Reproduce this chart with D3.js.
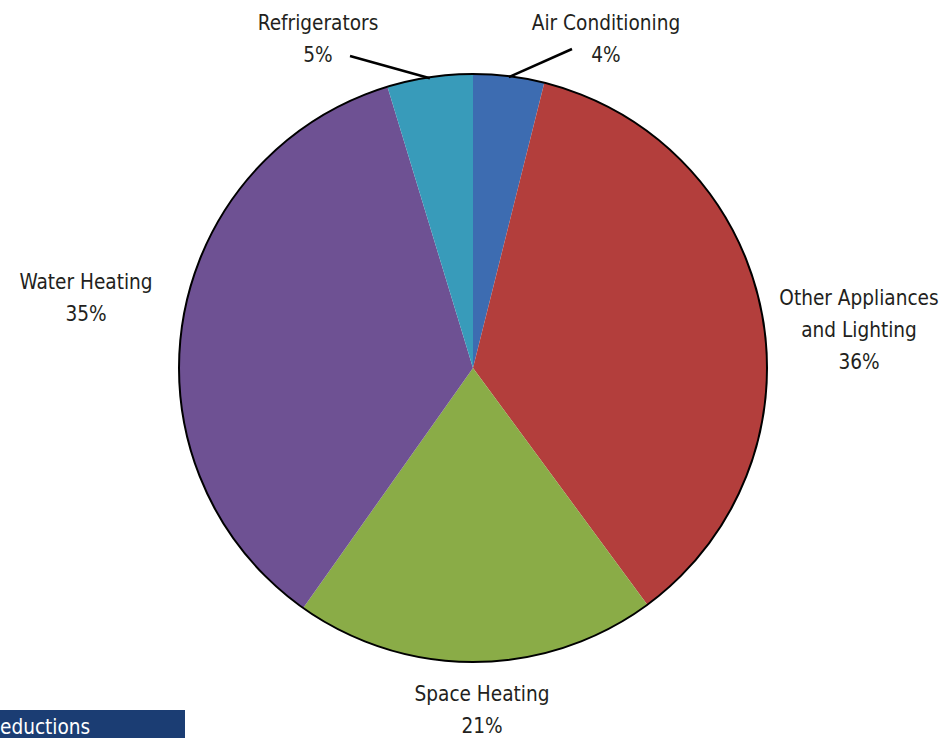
<!DOCTYPE html>
<html><head><meta charset="utf-8">
<script src="https://cdn.jsdelivr.net/npm/d3@7"></script>
<style>
html,body{margin:0;padding:0;background:#fff;}
svg{display:block;}
text{font-family:"Liberation Sans Narrow","DejaVu Sans Condensed","Arial Narrow",sans-serif;fill:#231f20;}
</style></head>
<body>
<svg id="chart" width="943" height="738"></svg>
<script>
const categories = ["Air Conditioning", "Other Appliances and Lighting", "Space Heating", "Water Heating", "Refrigerators"];
const values = [3.9, 36.0, 19.9, 35.5, 4.7];
const percentLabels = ["4%", "36%", "21%", "35%", "5%"];
const colors = ["#3d6cb1", "#b33e3c", "#8aac47", "#6e5193", "#389bba"];
const footerText = "eductions";

const svg = d3.select("#chart");
const cx = 473, cy = 368, r = 294;
const g = svg.append("g").attr("transform", `translate(${cx},${cy})`);

const pie = d3.pie().sort(null).value(d => d);
const arcs = pie(values);
const arc = d3.arc().innerRadius(0).outerRadius(r);

g.selectAll("path.slice").data(arcs).enter().append("path")
  .attr("class", "slice")
  .attr("d", arc)
  .attr("fill", (d, i) => colors[i]);

g.append("circle").attr("r", r).attr("fill", "none").attr("stroke", "#000").attr("stroke-width", 2);

// label layout relative to pie centre
const labelLayout = [
  {x: 133, y: -338, lines: ["Air Conditioning"], leader: [99, -319]},
  {x: 386, y: -63, lines: ["Other Appliances", "and Lighting"]},
  {x: 9, y: 333, lines: ["Space Heating"]},
  {x: -387, y: -79, lines: ["Water Heating"]},
  {x: -155, y: -338, lines: ["Refrigerators"], leader: [-123, -312]}
];
const lineH = 32;

arcs.forEach((d, i) => {
  const L = labelLayout[i];
  const lines = L.lines.concat([percentLabels[i]]);
  const t = g.append("text").attr("text-anchor", "middle").attr("font-size", 20.6);
  lines.forEach((s, k) => {
    t.append("tspan").attr("x", L.x).attr("y", L.y + k * lineH).text(s);
  });
  if (L.leader) {
    const mid = (d.startAngle + d.endAngle) / 2;
    const p0 = [Math.sin(mid) * (r - 1), -Math.cos(mid) * (r - 1)];
    g.append("line")
      .attr("x1", p0[0]).attr("y1", p0[1])
      .attr("x2", L.leader[0]).attr("y2", L.leader[1])
      .attr("stroke", "#000").attr("stroke-width", 2.5);
  }
});

// footer bar
svg.append("rect").attr("x", 0).attr("y", 710).attr("width", 185).attr("height", 28).attr("fill", "#1b3d73");
svg.append("text").attr("x", 0).attr("y", 734).attr("font-size", 20.6).style("fill", "#fff").text(footerText);
</script>
</body></html>
